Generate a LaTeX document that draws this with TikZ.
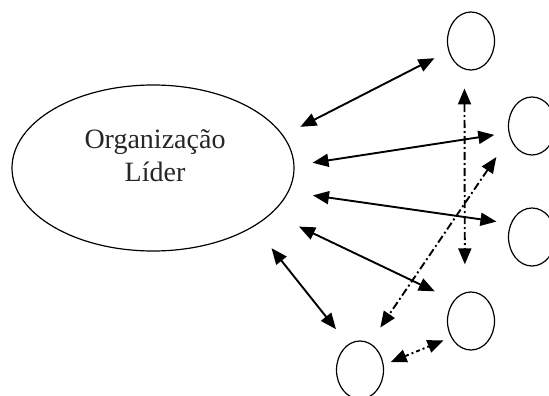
\documentclass[tikz,border=0pt]{standalone}
\usepackage{fontspec}
\setmainfont{Liberation Serif}
\usetikzlibrary{shapes.geometric,arrows.meta}

\tikzset{
  bigorg/.style={ellipse, draw, line width=1.2pt, minimum width=282pt, minimum height=166pt, inner sep=0pt},
  partner/.style={ellipse, draw, line width=1.2pt, minimum width=47pt, minimum height=58pt, inner sep=0pt},
  orgtext/.style={align=center, font=\fontsize{28}{33}\selectfont, text=black!85},
  link/.style={line width=1.9pt, {Triangle[length=16pt,width=13pt]}-{Triangle[length=16pt,width=13pt]}},
  dashlink/.style={link, dash pattern=on 8pt off 3pt on 2pt off 3pt},
  dotlink/.style={link, dash pattern=on 4pt off 3pt on 2pt off 3pt}
}

\begin{document}
\begin{tikzpicture}[x=1pt, y=-1pt]
  \useasboundingbox (0,0) rectangle (549,396);

  % leading organisation and its partners
  \node[bigorg] (big) at (153,168) {};
  \node[orgtext] (label) at (155,156) {Organização\\Líder};

  \node[partner] (n1) at (471,41) {};
  \node[partner] (n2) at (532,126) {};
  \node[partner] (n3) at (532,237) {};
  \node[partner] (n4) at (471,321) {};
  \node[partner] (n5) at (360,370) {};

  % links between the leader and each partner
  \draw[link, shorten <=19pt, shorten >=15.6pt] (big.14) -- (n1.204);
  \draw[link, shorten <=18.2pt, shorten >=14.4pt] (big.1) -- (n2.196.6);
  \draw[link, shorten <=24.5pt, shorten >=14.2pt] (big.350.7) -- (n3.148.4);
  \draw[link, shorten <=30.3pt, shorten >=21pt] (big.339.3) -- (n4.130.8);
  \draw[link, shorten <=27.8pt, shorten >=19.3pt] (big.330) -- (n5.115.7);

  % links among the partners
  \draw[dashlink, shorten <=19pt, shorten >=28pt] (n1.257.9) -- (n4.102.1);
  \draw[dashlink, shorten <=23.8pt, shorten >=18.7pt] (n2.207.6) -- (n5.70.3);
  \draw[dotlink, shorten <=7.5pt, shorten >=8pt] (n5.12.7) -- (n4.219.2);
\end{tikzpicture}
\end{document}
